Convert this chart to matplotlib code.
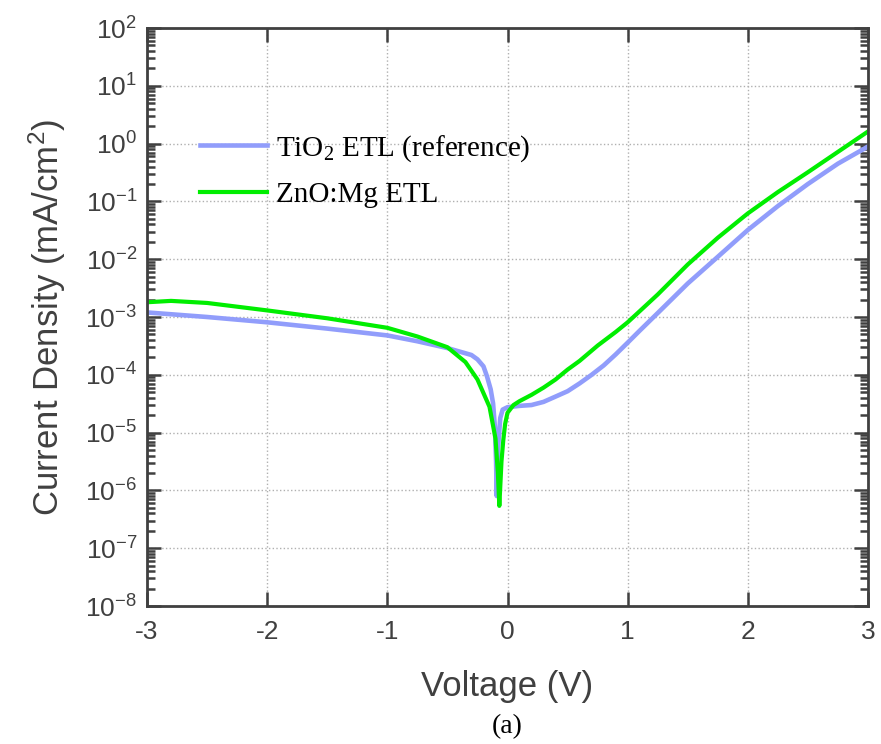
import numpy as np
import matplotlib
matplotlib.use('Agg')
import matplotlib.pyplot as plt
from matplotlib.ticker import LogLocator, NullFormatter, FixedLocator

plt.rcParams['font.family'] = ['Liberation Sans', 'DejaVu Sans']
plt.rcParams['mathtext.default'] = 'regular'
plt.rcParams['axes.unicode_minus'] = False

# values (V, mA/cm^2)
v_tio2 = [-3.0, -2.5, -2.0, -1.5, -1.0, -0.75, -0.5, -0.3, -0.25, -0.2, -0.17, -0.14, -0.12,
          -0.105, -0.095, -0.09, -0.08, -0.06, -0.04, 0.0, 0.1, 0.2, 0.3, 0.4, 0.5, 0.6,
          0.7, 0.8, 0.9, 1.0, 1.1, 1.25, 1.5, 1.75, 2.0, 2.25, 2.5, 2.75, 3.0]
j_tio2 = [1.2e-3, 1.0e-3, 8.1e-4, 6.3e-4, 4.8e-4, 3.8e-4, 2.9e-4, 2.2e-4, 1.85e-4, 1.4e-4, 9.3e-5, 5.6e-5, 3.2e-5,
          1.26e-5, 3.2e-6, 8e-7, 5e-6, 1.8e-5, 2.5e-5, 2.75e-5, 2.9e-5, 3.0e-5, 3.4e-5, 4.2e-5, 5.2e-5, 7.1e-5,
          1.0e-4, 1.45e-4, 2.25e-4, 3.6e-4, 5.8e-4, 1.17e-3, 3.8e-3, 1.1e-2, 3.2e-2, 8.3e-2, 0.2, 0.45, 0.89]

v_zno = [-3.0, -2.8, -2.5, -2.0, -1.5, -1.0, -0.75, -0.5, -0.35, -0.25, -0.15, -0.10,
         -0.08, -0.068, -0.05, -0.035, -0.02, 0.0, 0.05, 0.1, 0.2, 0.3, 0.4, 0.5, 0.6, 0.75,
         0.9, 1.0, 1.1, 1.25, 1.5, 1.75, 2.0, 2.25, 2.5, 2.75, 3.0]
j_zno = [1.8e-3, 1.9e-3, 1.75e-3, 1.3e-3, 9.5e-4, 6.5e-4, 4.6e-4, 3.0e-4, 1.66e-4, 8.3e-5, 2.8e-5, 7.9e-6,
         2e-6, 5.4e-7, 3.2e-6, 7.4e-6, 1.4e-5, 2.2e-5, 3.0e-5, 3.5e-5, 4.5e-5, 6e-5, 8.3e-5, 1.23e-4, 1.74e-4, 3.2e-4,
         5.5e-4, 8.1e-4, 1.26e-3, 2.45e-3, 8.1e-3, 2.35e-2, 6.2e-2, 0.145, 0.32, 0.72, 1.62]

x_ticks = [-3, -2, -1, 0, 1, 2, 3]

dark = '#404040'
fig = plt.figure(figsize=(8.81, 7.44), dpi=100)
ax = fig.add_axes([147/881, 1-606/744, 721/881, 578/744])

ax.plot(v_tio2, j_tio2, color='#919dfb', lw=3.3, label='TiO$_2$ ETL (reference)')
ax.plot(v_zno, j_zno, color='#00ee00', lw=3.0, label='ZnO:Mg ETL')

ax.set_yscale('log')
ax.set_xlim(-3, 3)
ax.set_ylim(1e-8, 1e2)
ax.xaxis.set_major_locator(FixedLocator(x_ticks))
ax.yaxis.set_major_locator(LogLocator(base=10, numticks=20))
ax.yaxis.set_minor_locator(LogLocator(base=10, subs=np.arange(2, 10), numticks=20))
ax.yaxis.set_minor_formatter(NullFormatter())

ax.grid(True, which='major', linestyle=':', color='#b0b0b0', lw=1.0)
for s in ax.spines.values():
    s.set_color(dark)
    s.set_linewidth(2.0)
ax.tick_params(which='both', direction='in', top=True, right=True, colors=dark, width=1.8)
ax.tick_params(which='major', length=10, labelsize=19, labelcolor=dark)
ax.tick_params(which='minor', length=6)
ax.tick_params(axis='x', pad=10)
ax.tick_params(axis='y', pad=7)

ax.set_xlabel('Voltage (V)', fontsize=25, color=dark, labelpad=19)
ax.set_ylabel('Current Density (mA/cm$^2$)', fontsize=25, color=dark, labelpad=12)

ax.legend(loc='upper left', bbox_to_anchor=(0.0735, 0.818), frameon=False,
          prop={'family': 'Liberation Serif', 'size': 21}, handlelength=2.3,
          handletextpad=0.3, labelspacing=0.6, borderpad=0, borderaxespad=0)

fig.text(507/881, 1-727/744, '(a)', family='Liberation Serif', fontsize=20,
         ha='center', va='center')

fig.savefig('out.png', dpi=100)
